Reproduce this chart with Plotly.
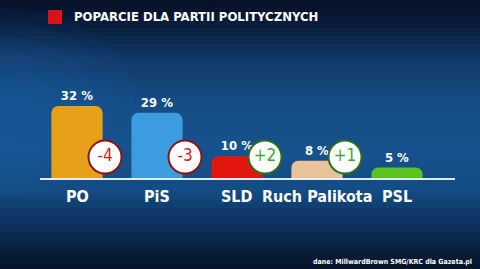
import plotly.graph_objects as go

# ---- data ----
parties = ["PO", "PiS", "SLD", "Ruch Palikota", "PSL"]
support = [32, 29, 10, 8, 5]
changes = [-4, -3, 2, 1, None]
bar_colors = ["#e6a01a", "#3b9de0", "#e3160f", "#e8c39a", "#5cc41e"]
title_text = "POPARCIE DLA PARTII POLITYCZNYCH"
source_text = "dane: MillwardBrown SMG/KRC dla Gazeta.pl"

W, H = 480, 269
FONT = "DejaVu Sans Condensed, Roboto, sans-serif"

fig = go.Figure()

fig.add_trace(go.Bar(
    x=parties, y=support,
    marker=dict(color=bar_colors, line=dict(width=0)),
    width=0.64,
    text=[f"{v} %" for v in support],
    textposition="outside",
    textfont=dict(family=FONT, size=13, color="white", weight="bold"),
    cliponaxis=False,
    hoverinfo="skip",
))

# change circles
cx = [p for p, c in zip(parties, changes) if c is not None]
cv = [c for c in changes if c is not None]
CIRCLE_LEVEL = 9.6
fig.add_trace(go.Scatter(
    x=cx, y=[CIRCLE_LEVEL] * len(cx), xaxis="x2",
    mode="markers+text",
    marker=dict(size=33, color="white",
                line=dict(width=2, color=["#8e1414" if c < 0 else "#2d6e1c" for c in cv])),
    text=[f"{c:+d}" for c in cv],
    textposition="middle center",
    textfont=dict(family=FONT, size=17,
                  color=["#d0201c" if c < 0 else "#38a830" for c in cv]),
    cliponaxis=False,
    hoverinfo="skip",
))

# background gradient bands
stops = [(0, (5, 16, 38)), (25, (8, 28, 58)), (60, (16, 58, 106)), (100, (21, 76, 132)),
         (150, (22, 82, 142)), (190, (20, 76, 132)), (220, (13, 52, 98)), (269, (5, 18, 38))]

def col_at(y):
    for (y0, c0), (y1, c1) in zip(stops[:-1], stops[1:]):
        if y0 <= y <= y1:
            t = (y - y0) / (y1 - y0)
            return "rgb(%d,%d,%d)" % tuple(round(a + (b - a) * t) for a, b in zip(c0, c1))
    return "rgb(5,18,38)"

shapes = []
step = 4
for yy in range(0, H, step):
    shapes.append(dict(type="rect", xref="paper", yref="paper", layer="below",
                       x0=0, x1=1, y0=1 - (yy + step + 0.5) / H, y1=1 - yy / H,
                       fillcolor=col_at(yy + step / 2), line=dict(width=0)))
# soft left glow (layered translucent circles)
for k in range(6):
    r = 0.06 + k * 0.035
    shapes.append(dict(type="circle", xref="paper", yref="paper", layer="below",
                       x0=-r * 1.2, x1=r * 1.2, y0=0.62 - r * 1.5, y1=0.62 + r * 1.5,
                       fillcolor="rgba(40,120,190,0.05)", line=dict(width=0)))
# baseline
shapes.append(dict(type="line", xref="paper", yref="y", x0=40 / W, x1=455 / W, y0=0, y1=0,
                   line=dict(color="rgba(235,245,255,0.95)", width=2)))
# red square in title
shapes.append(dict(type="rect", xref="paper", yref="paper",
                   x0=48 / W, x1=62 / W, y0=1 - 24 / H, y1=1 - 10 / H,
                   fillcolor="#d8121b", line=dict(width=0)))
fig.update_layout(shapes=shapes)

annotations = [
    dict(text=title_text, xref="paper", yref="paper", x=72 / W, y=1 - 17 / H,
         xanchor="left", yanchor="middle", showarrow=False,
         font=dict(family=FONT, size=13, color="white", weight="bold")),
    dict(text=source_text, xref="paper", yref="paper", x=474 / W, y=1 - 262 / H,
         xanchor="right", yanchor="middle", showarrow=False,
         font=dict(family=FONT, size=7, color="white", weight="bold")),
]
for p in parties:
    annotations.append(dict(text=p, x=p, y=0, xref="x", yref="y", yanchor="top",
                            yshift=-6, showarrow=False,
                            font=dict(family=FONT, size=16, color="white", weight="bold")))
fig.update_layout(annotations=annotations)

a, b = -0.9625, 5.0375
shift = 0.35
fig.update_layout(
    width=W, height=H,
    margin=dict(l=0, r=0, t=0, b=0),
    paper_bgcolor="#0d2f5c", plot_bgcolor="rgba(0,0,0,0)",
    showlegend=False,
    barcornerradius=7,
    xaxis=dict(type="category", categoryarray=parties, range=[a, b], domain=[0, 1],
               visible=False, fixedrange=True),
    xaxis2=dict(type="category", categoryarray=parties, range=[a - shift, b - shift],
                overlaying="x", visible=False, fixedrange=True),
    yaxis=dict(range=[-39.5, 78.5], domain=[0, 1], visible=False, fixedrange=True),
)

fig.write_html("out.html")
